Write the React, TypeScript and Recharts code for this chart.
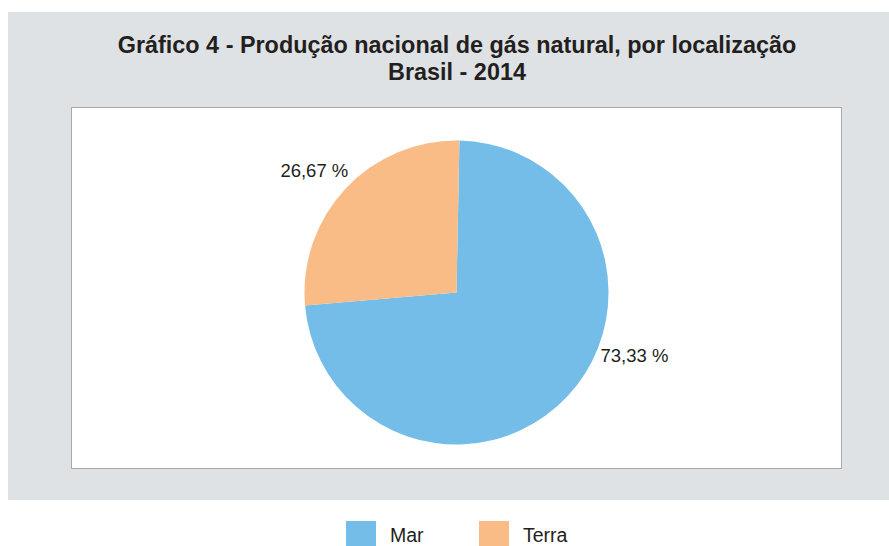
import React from "react";
import { PieChart, Pie, Cell } from "recharts";

const categories = ["Mar", "Terra"];
const shares = [73.33, 26.67];
const shareLabels = ["73,33 %", "26,67 %"];
const colors = ["#74BDE8", "#F9BC87"];

const titleLine1 = "Gráfico 4 - Produção nacional de gás natural, por localização";
const titleLine2 = "Brasil - 2014";

const data = categories.map((name, i) => ({ name, value: shares[i], label: shareLabels[i] }));

const FONT = "'Liberation Sans', Arial, Helvetica, sans-serif";
const TEXT = "#231F20";
const RAD = Math.PI / 180;

// label placement tweaks (style, relative to each slice's mid-angle)
const labelTweak = [
  { dAngle: 19.6, dr: 5, anchor: "start" },
  { dAngle: -5.3, dr: 11, anchor: "end" },
];

const renderLabel = (props: any) => {
  const { cx, cy, midAngle, outerRadius, index } = props;
  const t = labelTweak[index];
  const a = (midAngle + t.dAngle) * RAD;
  const r = outerRadius + t.dr;
  const x = cx + r * Math.cos(a);
  const y = cy - r * Math.sin(a);
  return (
    <text
      x={x}
      y={y}
      textAnchor={t.anchor}
      dominantBaseline="central"
      fill={TEXT}
      fontFamily={FONT}
      fontSize={18.5}
    >
      {data[index].label}
    </text>
  );
};

export default function App() {
  return (
    <div style={{ position: "absolute", left: 0, top: 0, width: 889, height: 546, background: "#fff", overflow: "hidden" }}>
      <div style={{ position: "absolute", left: 8, top: 12, width: 881, height: 488, background: "#DFE2E5" }} />
      <div
        style={{
          position: "absolute",
          left: 71,
          top: 107,
          width: 769,
          height: 360,
          background: "#fff",
          border: "1.5px solid #A9A9A9",
        }}
      />
      <div
        style={{
          position: "absolute",
          left: 0,
          top: 32,
          width: 914,
          textAlign: "center",
          fontFamily: FONT,
          fontWeight: "bold",
          fontSize: 23.4,
          lineHeight: "27px",
          color: TEXT,
        }}
      >
        <div>{titleLine1}</div>
        <div>{titleLine2}</div>
      </div>
      <div style={{ position: "absolute", left: 0, top: 0 }}>
        <PieChart width={889} height={546} margin={{ top: 0, right: 0, bottom: 0, left: 0 }}>
          <Pie
            data={data}
            dataKey="value"
            nameKey="name"
            cx={456.5}
            cy={292.5}
            outerRadius={152}
            startAngle={88.9}
            endAngle={-271.1}
            stroke="none"
            label={renderLabel}
            labelLine={false}
            isAnimationActive={false}
          >
            {data.map((d, i) => (
              <Cell key={d.name} fill={colors[i]} />
            ))}
          </Pie>
        </PieChart>
      </div>
      {data.map((d, i) => (
        <div
          key={d.name}
          style={{
            position: "absolute",
            left: 346 + i * 133,
            top: 521,
            display: "flex",
            alignItems: "flex-start",
            fontFamily: FONT,
            fontSize: 19.5,
            color: TEXT,
          }}
        >
          <div style={{ width: 30, height: 30, background: colors[i] }} />
          <div style={{ marginLeft: 14, lineHeight: "28px" }}>{d.name}</div>
        </div>
      ))}
    </div>
  );
}
